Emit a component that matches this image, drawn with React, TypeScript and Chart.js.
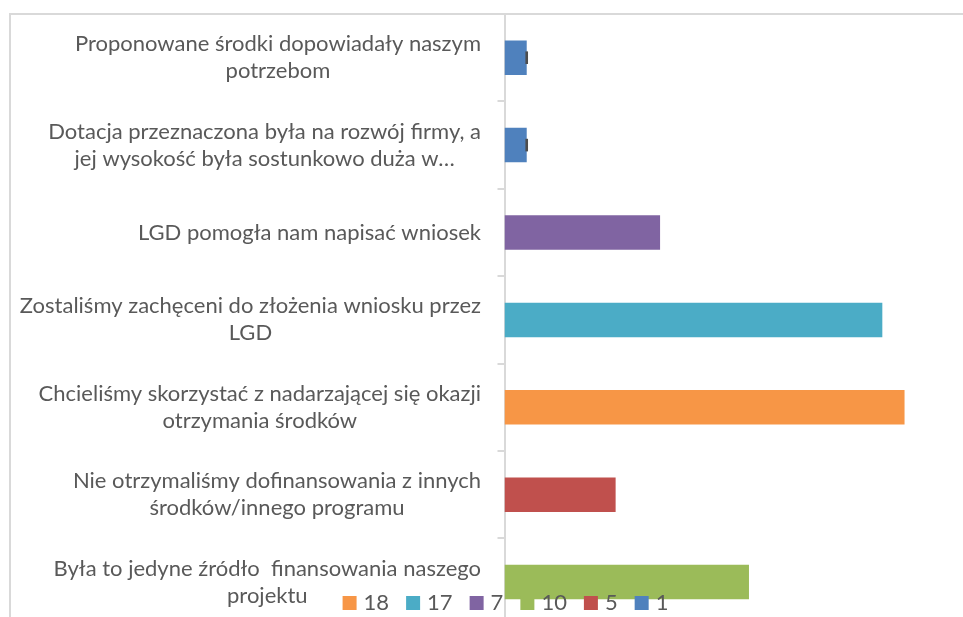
import React, { useEffect, useRef } from "react";
import { Chart, registerables } from "chart.js";

Chart.register(...registerables);

// ---- data ----
const categories: string[][] = [
  ["Proponowane środki dopowiadały naszym", "potrzebom"],
  ["Dotacja przeznaczona była na rozwój firmy, a", "jej wysokość była sostunkowo duża w…"],
  ["LGD pomogła nam napisać wniosek"],
  ["Zostaliśmy zachęceni do złożenia wniosku przez", "LGD"],
  ["Chcieliśmy skorzystać z nadarzającej się okazji", "otrzymania środków"],
  ["Nie otrzymaliśmy dofinansowania z innych", "środków/innego programu"],
  ["Była to jedyne źródło  finansowania naszego", "projektu"],
];
const values: number[] = [1, 1, 7, 17, 18, 5, 11];
const barColors: string[] = ["#4F81BD", "#4F81BD", "#8064A2", "#4BACC6", "#F79646", "#C0504D", "#9BBB59"];
const endMarks: boolean[] = [true, true, false, false, false, false, false];
const legendLabels: string[] = ["18", "17", "7", "10", "5", "1"];
const legendColors: string[] = ["#F79646", "#4BACC6", "#8064A2", "#9BBB59", "#C0504D", "#4F81BD"];
const xMin = 0;
const xMax = 20;

// ---- layout / style ----
const CANVAS_W = 1000;
const CANVAS_H = 660;
const AXIS_X = 504.5;
const PLOT_TOP = 14;
const PLOT_BOTTOM = 625.8;
const PLOT_RIGHT = 949;
const FONT = "22px Lato";
const TEXT_COLOR = "#595959";
const LABEL_RIGHT = 481;
const LINE_H = 27;
const LEGEND_CX = 505.5;
const LEGEND_BASE = 610;
const LEGEND_BOX = 14;
const LEGEND_GAP = 7;
const LEGEND_SPACING = 17;

const labelPlugin = {
  id: "wrappedLabels",
  afterDraw(chart: any) {
    const ctx = chart.ctx;
    const yScale = chart.scales.y;
    ctx.save();
    ctx.font = FONT;
    ctx.fillStyle = TEXT_COLOR;
    ctx.textAlign = "center";
    ctx.textBaseline = "middle";
    categories.forEach((lines, i) => {
      const cy = yScale.getPixelForValue(i);
      const w = Math.max(...lines.map((l) => ctx.measureText(l).width));
      const cx = LABEL_RIGHT - w / 2;
      const y0 = cy - ((lines.length - 1) * LINE_H) / 2;
      lines.forEach((l, j) => ctx.fillText(l, cx, y0 + j * LINE_H));
    });
    ctx.restore();
  },
};

const markPlugin = {
  id: "endMarks",
  afterDatasetsDraw(chart: any) {
    const ctx = chart.ctx;
    const meta = chart.getDatasetMeta(0);
    ctx.save();
    ctx.fillStyle = "#4d4d4d";
    meta.data.forEach((el: any, i: number) => {
      if (!endMarks[i]) return;
      const { x, y } = el.getProps(["x", "y"], true);
      ctx.fillRect(x - 1.3, y - 6.3, 2.6, 12.6);
    });
    ctx.restore();
  },
};

const legendPlugin = {
  id: "customLegend",
  afterDraw(chart: any) {
    const ctx = chart.ctx;
    ctx.save();
    ctx.font = FONT;
    ctx.textBaseline = "alphabetic";
    ctx.textAlign = "left";
    const widths = legendLabels.map((t) => LEGEND_BOX + LEGEND_GAP + ctx.measureText(t).width);
    const total = widths.reduce((a, b) => a + b, 0) + LEGEND_SPACING * (legendLabels.length - 1);
    let x = LEGEND_CX - total / 2;
    legendLabels.forEach((t, i) => {
      ctx.fillStyle = legendColors[i];
      ctx.fillRect(x, LEGEND_BASE - LEGEND_BOX, LEGEND_BOX, LEGEND_BOX);
      ctx.fillStyle = TEXT_COLOR;
      ctx.fillText(t, x + LEGEND_BOX + LEGEND_GAP, LEGEND_BASE);
      x += widths[i] + LEGEND_SPACING;
    });
    ctx.restore();
  },
};

export default function App() {
  const canvasRef = useRef<HTMLCanvasElement | null>(null);

  useEffect(() => {
    if (!canvasRef.current) return;
    const chart = new Chart(canvasRef.current, {
      type: "bar",
      data: {
        labels: categories,
        datasets: [
          {
            data: values,
            backgroundColor: barColors,
            borderWidth: 0,
            categoryPercentage: 1,
            barPercentage: 0.395,
          },
        ],
      },
      options: {
        indexAxis: "y",
        responsive: false,
        animation: false,
        devicePixelRatio: 1,
        layout: {
          padding: {
            left: 0,
            top: PLOT_TOP,
            right: CANVAS_W - PLOT_RIGHT,
            bottom: CANVAS_H - PLOT_BOTTOM,
          },
        },
        plugins: {
          legend: { display: false },
          tooltip: { enabled: false },
        },
        scales: {
          x: { display: false, min: xMin, max: xMax },
          y: {
            ticks: { display: false },
            grid: {
              offset: true,
              drawOnChartArea: false,
              drawTicks: true,
              tickLength: 7,
              color: "#d9d9d9",
              lineWidth: 2,
            },
            border: { display: true, color: "#d9d9d9", width: 2 },
            afterFit(scale: any) {
              scale.width = AXIS_X;
            },
          },
        },
      } as any,
      plugins: [markPlugin, labelPlugin, legendPlugin],
    });
    return () => chart.destroy();
  }, []);

  return (
    <div
      style={{
        position: "fixed",
        left: 0,
        top: 0,
        width: 963,
        height: 617,
        overflow: "hidden",
        background: "#ffffff",
      }}
    >
      <canvas
        ref={canvasRef}
        width={CANVAS_W}
        height={CANVAS_H}
        style={{ position: "absolute", left: 0, top: 0, width: CANVAS_W, height: CANVAS_H }}
      />
      <div
        style={{
          position: "absolute",
          left: 9,
          top: 13,
          width: 1200,
          height: 800,
          border: "2px solid #d9d9d9",
          pointerEvents: "none",
        }}
      />
    </div>
  );
}
